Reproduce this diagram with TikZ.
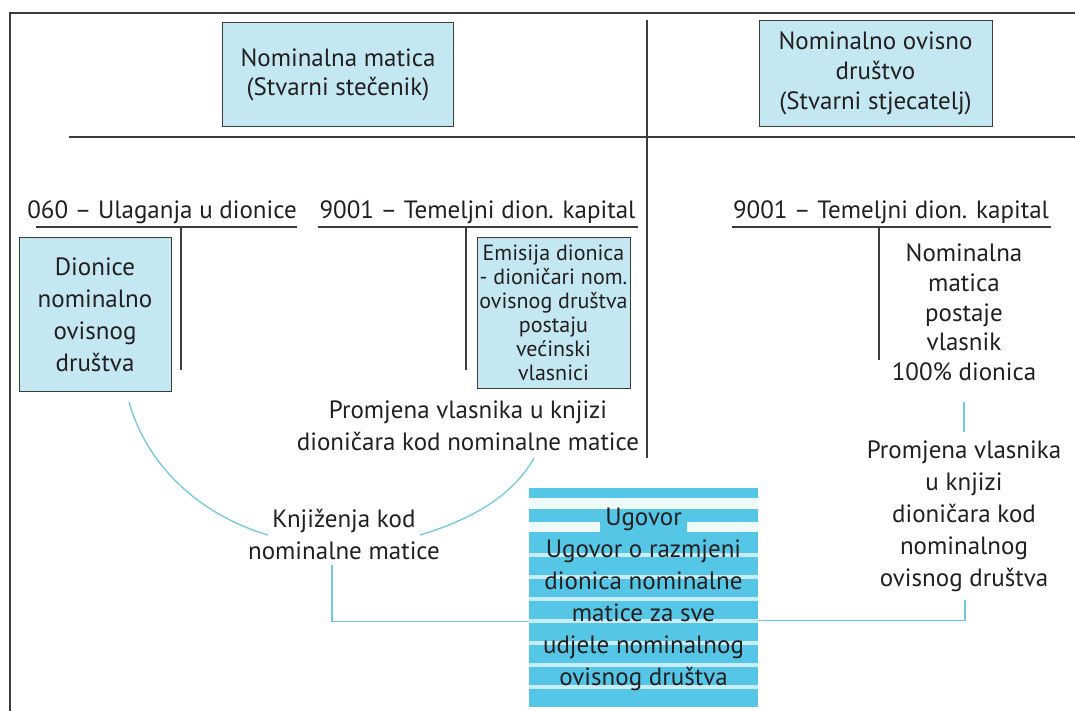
\documentclass[tikz,border=0pt]{standalone}
\usepackage{fontspec}
\setmainfont{PT Sans}
\usetikzlibrary{calc}
\definecolor{boxblue}{HTML}{C4E8F1}
\definecolor{stripeblue}{HTML}{55C6E6}
\definecolor{stripelight}{HTML}{C9EDF7}
\definecolor{linkblue}{HTML}{72C9DD}
\definecolor{ink}{HTML}{231F20}
\definecolor{rulecol}{HTML}{3C3C3C}
\begin{document}
\begin{tikzpicture}[x=1pt,y=-1pt,
  every node/.style={text=ink, align=center, inner sep=0pt},
  txt/.style={font=\fontsize{25}{32}\selectfont},
  smalltxt/.style={font=\fontsize{22}{24}\selectfont},
  bluebox/.style={draw=rulecol, fill=boxblue, line width=1pt},
  rulel/.style={draw=rulecol, line width=1.1pt},
  link/.style={draw=linkblue, line width=1.3pt},
]
\useasboundingbox (0,0) rectangle (1075,711);
\fill[white] (0,0) rectangle (1075,711);

% frame and table rules
\draw[rulel] (10,711) -- (10,13) -- (1075,13);
\draw[rulel] (69,137) -- (1075,137);
\draw[rulel] (647,20) -- (647,458);

% top boxes
\node[bluebox, font=\fontsize{25}{29}\selectfont, minimum width=231pt, minimum height=104pt] (nm) at (338,75) {Nominalna matica\\(Stvarni stečenik)};
\node[bluebox, font=\fontsize{25}{30}\selectfont, minimum width=233pt, minimum height=106pt] (nod) at (875.5,73.5) {Nominalno ovisno\\društvo\\(Stvarni stjecatelj)};

% account titles
\node[txt] (acc1) at (162,212) {060 – Ulaganja u dionice};
\node[txt] (acc2) at (477.5,212) {9001 – Temeljni dion. kapital};
\node[txt] (acc3) at (891,212) {9001 – Temeljni dion. kapital};
\coordinate (u1a) at (36,227);  \coordinate (u1b) at (297,227);
\coordinate (u2a) at (318,227); \coordinate (u2b) at (638,227);
\coordinate (u3a) at (732,227); \coordinate (u3b) at (1051,227);
\draw[rulel] (u1a) -- (u1b);
\draw[rulel] (u2a) -- (u2b);
\draw[rulel] (u3a) -- (u3b);
\draw[rulel] (181,227) -- (181,370);
\draw[rulel] (466,227) -- (466,370);
\draw[rulel] (879,227) -- (879,360);

% T-account contents
\node[bluebox, txt, minimum width=152pt, minimum height=153pt] (dion) at (95,314.5) {Dionice\\nominalno\\ovisnog\\društva};
\node[bluebox, smalltxt, minimum width=153pt, minimum height=150pt] (emis) at (553.5,313) {Emisija dionica\\- dioničari nom.\\ovisnog društva\\postaju\\većinski\\vlasnici};
\node[font=\fontsize{25}{29.75}\selectfont] (nmv) at (964,312.5) {Nominalna\\matica\\postaje\\vlasnik\\100\% dionica};

% lower texts
\node[txt] (pl) at (468,426) {Promjena vlasnika u knjizi\\dioničara kod nominalne matice};
\node[txt] (knj) at (344,534) {Knjiženja kod\\nominalne matice};
\node[txt] (pr2) at (964,516) {Promjena vlasnika\\u knjizi\\dioničara kod\\nominalnog\\ovisnog društva};

% striped contract box
\fill[stripeblue] (529,488) rectangle (758,707);
\fill[white!70!stripelight] (529,498) rectangle (758,509);
\fill[white!70!stripelight] (529,522) rectangle (600,532);
\fill[white!70!stripelight] (687,522) rectangle (758,532);
\foreach \yy in {553,575,...,697} {\fill[stripelight] (529,\yy) rectangle (758,\yy+4);}
\node[txt, minimum width=229pt, minimum height=219pt] (ug) at (643.5,599.5) {Ugovor\\Ugovor o razmjeni\\dionica nominalne\\matice za sve\\udjele nominalnog\\ovisnog društva};

% connectors
\coordinate (c1s) at (129,402);
\coordinate (c1e) at (268,535);
\coordinate (c2s) at (534,458);
\coordinate (c2e) at (420,535);
\draw[link] (c1s) .. controls (150,475) and (210,518) .. (c1e);
\draw[link] (c2s) .. controls (512,497) and (470,520) .. (c2e);
\coordinate (k1) at (332,565);
\draw[link] (k1) |- ($(ug.west)+(0,22)$);
\coordinate (v1) at (964,402);
\coordinate (v2) at (964,432);
\draw[link] (v1) -- (v2);
\coordinate (b1) at (965,600);
\draw[link] (b1) |- ($(ug.east)+(0,21)$);
\end{tikzpicture}
\end{document}
